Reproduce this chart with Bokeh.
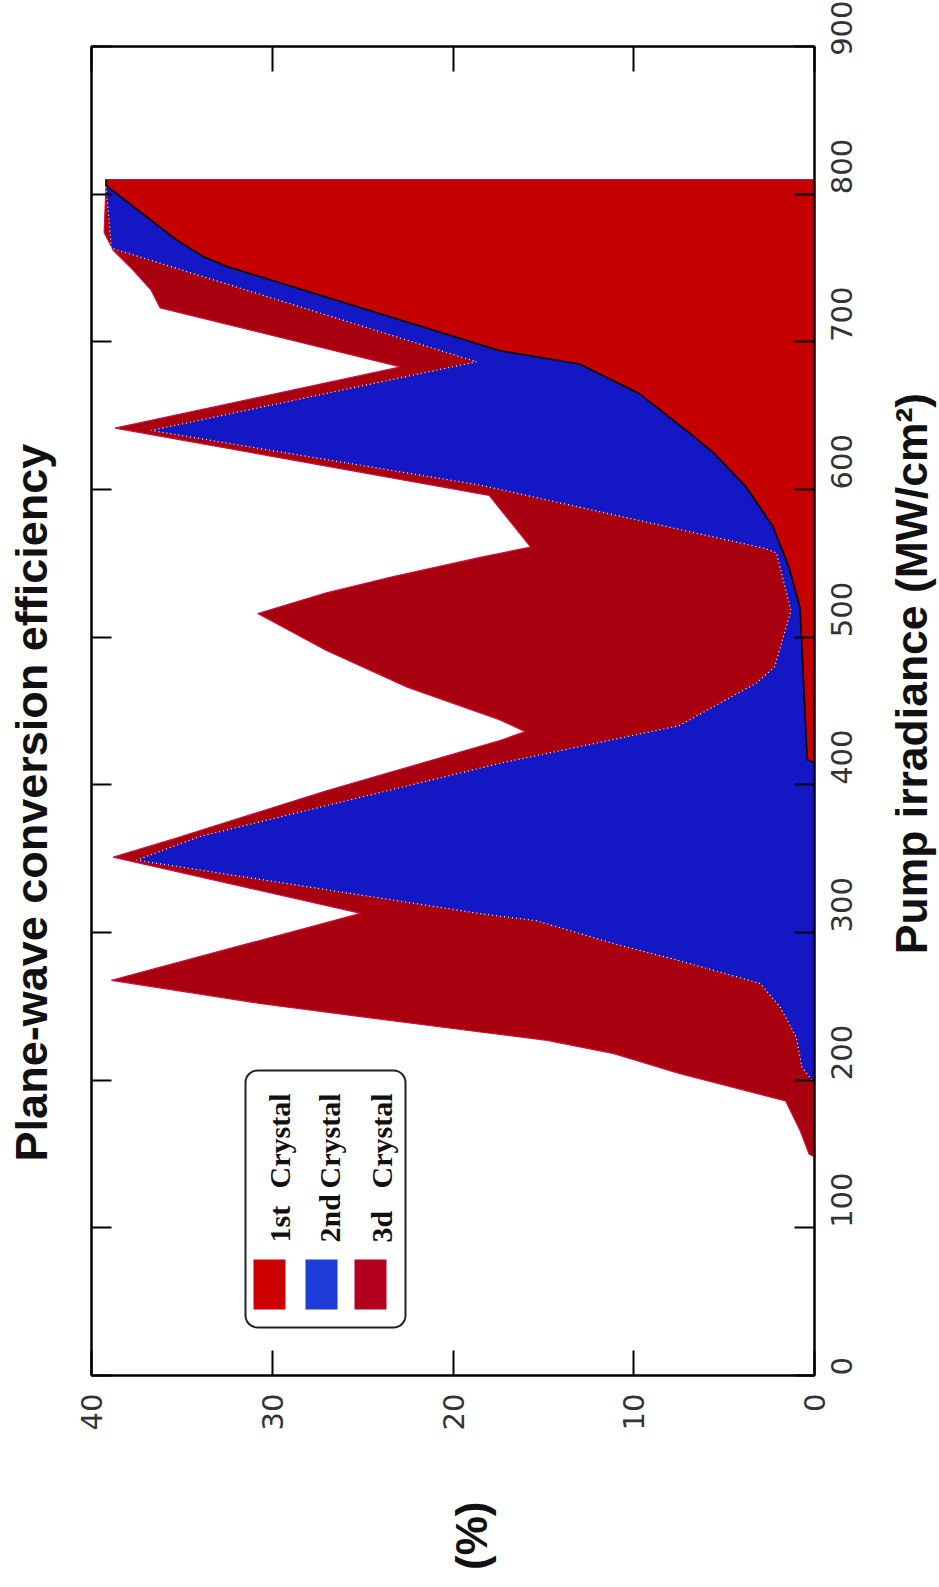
import math
from bokeh.plotting import figure
from bokeh.layouts import row
from bokeh.models import Range1d, LinearAxis, FixedTicker, BoxAnnotation, Label
from bokeh.embed import file_html
from bokeh.resources import INLINE

# ---- data (pump irradiance in MW/cm^2, efficiency in %) ----
pump_1st = [415, 417, 520, 547, 575, 602, 625, 640, 665, 685, 694, 751, 757.6, 769, 806, 810]
eff_1st = [0, 0.4, 0.8, 1.4, 2.3, 3.8, 5.6, 7.1, 9.7, 13.0, 17.4, 32.5, 33.8, 35.3, 39.2, 39.2]

pump_2nd = [198, 201, 209, 229, 249.5, 265.5, 281, 292.5, 308, 312.8, 349, 365, 414.6, 440, 469,
            480, 518, 557, 560, 603, 640, 686.5, 763.5, 806, 810]
eff_2nd = [0, 0.2, 0.7, 1.0, 1.9, 3.0, 7.5, 11.1, 15.4, 18.5, 37.5, 34.0, 17.4, 7.5, 3.2,
           2.2, 1.3, 2.1, 2.7, 18.5, 36.7, 18.7, 38.9, 39.2, 39.2]

pump_3d = [148, 150, 166, 186, 204.6, 218, 227, 232.6, 243, 252, 267.6, 313, 351, 364, 396, 430,
           436, 444, 466, 491, 516, 530, 541, 554, 561, 596, 641.6, 683, 723, 735, 748.6, 762,
           774, 806, 810]
eff_3d = [0, 0.3, 0.8, 1.6, 7.5, 11.1, 14.8, 18.5, 25.1, 30.7, 38.9, 25.1, 38.8, 35.3, 27.0, 17.4,
          16.0, 17.4, 22.5, 27.0, 30.8, 27.0, 23.3, 18.5, 15.7, 18.0, 38.7, 22.9, 36.2, 36.7, 37.7, 38.8,
          39.3, 39.2, 39.2]

pct_ticks = [0, 10, 20, 30, 40]
pump_ticks = [0, 100, 200, 300, 400, 500, 600, 700, 800, 900]
series_names = ["1st", "2nd", "3d"]
legend_word = "Crystal"

title_text = "Plane-wave conversion efficiency"
pump_label = "Pump irradiance (MW/cm\u00b2)"
pct_label = "(%)"
pct_label_at = 19

c1 = "#c40000"
c2 = "#1418c4"
c3 = "#a8000e"

H = 1585
LEFT_W = 60
MAIN_W = 818
RIGHT_W = 61

p = figure(width=MAIN_W, height=H, x_range=Range1d(40, 0), y_range=Range1d(0, 900),
           output_backend="svg", toolbar_location=None,
           x_axis_location=None, y_axis_location=None,
           min_border_left=31, min_border_right=64, min_border_top=46, min_border_bottom=210)
p.background_fill_color = "white"
p.border_fill_color = "white"
p.outline_line_color = "black"
p.outline_line_width = 2
p.xgrid.visible = False
p.ygrid.visible = False

# areas (3d at back, 1st at front)
p.harea(y=pump_3d, x1=0, x2=eff_3d, fill_color=c3)
p.line(x=eff_3d, y=pump_3d, line_color="#cc1040", line_width=1.2)
p.harea(y=pump_2nd, x1=0, x2=eff_2nd, fill_color=c2)
p.line(x=eff_2nd, y=pump_2nd, line_color="white", line_width=1.2, line_dash="1 3")
p.harea(y=pump_1st, x1=0, x2=eff_1st, fill_color=c1)
p.line(x=eff_1st, y=pump_1st, line_color="black", line_width=1.5)

tick_font = "DejaVu Sans"

def style_axis(ax, tick_in, show_labels, standoff=15):
    ax.major_tick_in = tick_in
    ax.major_tick_out = 0
    ax.minor_tick_line_color = None
    ax.axis_line_color = "black"
    ax.axis_line_width = 2
    ax.major_tick_line_color = "black"
    ax.major_tick_line_width = 2
    ax.major_label_orientation = math.pi / 2
    ax.major_label_standoff = standoff
    ax.major_label_text_font = tick_font
    if show_labels:
        ax.major_label_text_font_size = "29px"
        ax.major_label_text_color = "#333333"
    else:
        ax.major_label_text_font_size = "0px"
        ax.major_label_text_color = None

ax_b = LinearAxis(ticker=FixedTicker(ticks=pct_ticks))
style_axis(ax_b, 25, True, 18)
p.add_layout(ax_b, "below")

# "(%)" label, carried by a tick-less axis so that it sits below the tick labels
ax_pct = LinearAxis(ticker=FixedTicker(ticks=[pct_label_at]),
                    major_label_overrides={pct_label_at: pct_label})
ax_pct.axis_line_color = None
ax_pct.major_tick_line_color = None
ax_pct.minor_tick_line_color = None
ax_pct.major_tick_in = 0
ax_pct.major_tick_out = 0
ax_pct.major_label_orientation = math.pi / 2
ax_pct.major_label_standoff = 68
ax_pct.major_label_text_font = "Liberation Sans"
ax_pct.major_label_text_font_style = "bold"
ax_pct.major_label_text_font_size = "44px"
ax_pct.major_label_text_color = "#111111"
p.add_layout(ax_pct, "below")

ax_t = LinearAxis(ticker=FixedTicker(ticks=pct_ticks))
style_axis(ax_t, 25, False, 0)
p.add_layout(ax_t, "above")

ax_r = LinearAxis(ticker=FixedTicker(ticks=pump_ticks))
style_axis(ax_r, 20, True, 27)
p.add_layout(ax_r, "right")

ax_l = LinearAxis(ticker=FixedTicker(ticks=pump_ticks))
style_axis(ax_l, 20, False, 0)
p.add_layout(ax_l, "left")

# legend (drawn manually, rotated like the chart)
p.add_layout(BoxAnnotation(left=154, right=314, top=305, bottom=48,
                           left_units="screen", right_units="screen",
                           top_units="screen", bottom_units="screen",
                           fill_color="white", fill_alpha=1, line_color="#222222",
                           line_alpha=1, line_width=2, border_radius=12))
sw_cols = ["#cc0000", "#1e3cd6", "#b3001e"]
sw_left = [162, 214, 263]
for col, lft, name, base in zip(sw_cols, sw_left, series_names, [188, 238, 290]):
    p.add_layout(BoxAnnotation(left=lft, right=lft + 32, top=116, bottom=66,
                               left_units="screen", right_units="screen",
                               top_units="screen", bottom_units="screen",
                               fill_color=col, fill_alpha=1, line_color=None))
    common = dict(x_units="screen", y_units="screen", angle=math.pi / 2, text_align="left",
                  text_baseline="alphabetic", text_font="Liberation Serif",
                  text_font_style="bold", text_font_size="30px", text_color="#111111")
    p.add_layout(Label(x=base, y=133, text=name, **common))
    p.add_layout(Label(x=base, y=187, text=legend_word, **common))


def text_strip(width, text, cx, cy, size):
    # narrow side figure; its frame is aligned with the main frame by the row layout
    f = figure(width=width, height=H, x_range=Range1d(0, 1), y_range=Range1d(0, 1),
               output_backend="svg", toolbar_location=None,
               x_axis_location=None, y_axis_location=None, min_border=0)
    f.outline_line_color = None
    f.background_fill_color = "white"
    f.border_fill_color = "white"
    f.xgrid.visible = False
    f.ygrid.visible = False
    f.add_layout(Label(x=cx, y=cy, x_units="screen", y_units="screen", text=text,
                       angle=math.pi / 2, text_align="center", text_baseline="middle",
                       text_font="Liberation Sans", text_font_style="bold",
                       text_font_size=size, text_color="#111111"))
    return f

# positions measured from the bottom of the (shared) frame
left_fig = text_strip(LEFT_W, title_text, 31, 573, "45px")
right_fig = text_strip(RIGHT_W, pump_label, 33, 702, "44.5px")

layout = row(left_fig, p, right_fig)
open("out.html", "w").write(file_html(layout, INLINE))
